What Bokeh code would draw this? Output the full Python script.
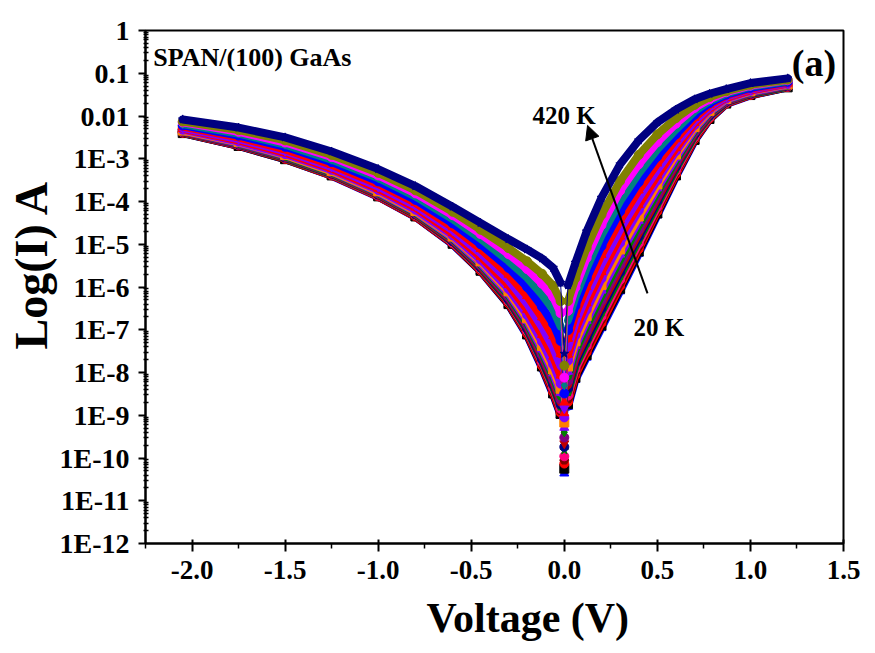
from bokeh.plotting import figure
from bokeh.models import Range1d, FixedTicker, Label, Arrow, NormalHead, NumeralTickFormatter, Title
from bokeh.embed import file_html
from bokeh.resources import INLINE

# Voltage grid (V); index 13 (0.0 V) holds each curve's minimum
voltage = [-2.05, -1.75, -1.5, -1.25, -1.0, -0.8, -0.6, -0.45, -0.3, -0.2, -0.12, -0.06, -0.02,
           0.0,
           0.02, 0.06, 0.12, 0.2, 0.3, 0.4, 0.5, 0.6, 0.7, 0.78, 0.87, 1.0, 1.2]

temperatures = [20, 40, 60, 80, 100, 120, 140, 160, 180, 200, 220,
                240, 260, 280, 300, 320, 340, 360, 380, 400, 420]

# log10(I / A)
logI_20K = [-2.40, -2.70, -3.01, -3.40, -3.89, -4.36, -5.00, -5.63, -6.41, -7.13, -7.89, -8.52, -9.00, -10.36, -8.80, -8.17, -7.65, -6.96, -6.10, -5.22, -4.32, -3.42, -2.58, -2.08, -1.72, -1.52, -1.33]
logI_40K = [-2.40, -2.70, -3.01, -3.39, -3.88, -4.35, -4.99, -5.62, -6.40, -7.11, -7.86, -8.49, -8.97, -10.25, -8.74, -8.12, -7.59, -6.90, -6.04, -5.17, -4.28, -3.39, -2.56, -2.07, -1.71, -1.51, -1.33]
logI_60K = [-2.39, -2.69, -3.00, -3.39, -3.88, -4.35, -4.98, -5.61, -6.38, -7.09, -7.84, -8.46, -8.94, -10.13, -8.69, -8.06, -7.53, -6.84, -5.98, -5.11, -4.23, -3.36, -2.54, -2.06, -1.71, -1.51, -1.32]
logI_80K = [-2.39, -2.69, -2.99, -3.38, -3.87, -4.34, -4.97, -5.59, -6.36, -7.06, -7.80, -8.42, -8.89, -10.05, -8.62, -7.99, -7.46, -6.76, -5.91, -5.05, -4.18, -3.32, -2.52, -2.04, -1.70, -1.50, -1.32]
logI_100K = [-2.38, -2.68, -2.98, -3.37, -3.86, -4.32, -4.96, -5.57, -6.33, -7.03, -7.76, -8.37, -8.85, -9.96, -8.54, -7.92, -7.38, -6.69, -5.83, -4.98, -4.13, -3.28, -2.49, -2.03, -1.69, -1.49, -1.31]
logI_120K = [-2.38, -2.67, -2.98, -3.36, -3.85, -4.31, -4.94, -5.56, -6.31, -7.00, -7.72, -8.33, -8.80, -9.82, -8.46, -7.84, -7.30, -6.59, -5.74, -4.90, -4.06, -3.23, -2.46, -2.01, -1.68, -1.49, -1.31]
logI_140K = [-2.37, -2.67, -2.97, -3.35, -3.84, -4.30, -4.93, -5.54, -6.29, -6.97, -7.69, -8.28, -8.75, -9.74, -8.37, -7.76, -7.21, -6.50, -5.65, -4.82, -3.99, -3.18, -2.43, -1.99, -1.67, -1.48, -1.30]
logI_160K = [-2.37, -2.66, -2.96, -3.34, -3.83, -4.29, -4.91, -5.52, -6.26, -6.93, -7.63, -8.22, -8.69, -9.66, -8.29, -7.68, -7.12, -6.41, -5.57, -4.74, -3.93, -3.14, -2.41, -1.97, -1.66, -1.47, -1.29]
logI_180K = [-2.36, -2.65, -2.95, -3.33, -3.81, -4.27, -4.89, -5.49, -6.23, -6.89, -7.58, -8.16, -8.63, -9.52, -8.20, -7.59, -7.03, -6.32, -5.48, -4.66, -3.86, -3.09, -2.38, -1.95, -1.65, -1.46, -1.29]
logI_200K = [-2.35, -2.64, -2.94, -3.32, -3.80, -4.26, -4.87, -5.47, -6.19, -6.84, -7.52, -8.09, -8.55, -9.40, -8.09, -7.49, -6.91, -6.20, -5.36, -4.56, -3.78, -3.03, -2.34, -1.93, -1.63, -1.45, -1.28]
logI_220K = [-2.35, -2.63, -2.92, -3.30, -3.78, -4.24, -4.85, -5.44, -6.15, -6.79, -7.46, -8.02, -8.47, -9.29, -7.98, -7.38, -6.79, -6.08, -5.24, -4.45, -3.69, -2.97, -2.30, -1.91, -1.62, -1.44, -1.27]
logI_240K = [-2.34, -2.61, -2.91, -3.29, -3.76, -4.22, -4.82, -5.40, -6.10, -6.73, -7.38, -7.93, -8.38, -9.17, -7.86, -7.27, -6.68, -5.95, -5.12, -4.35, -3.60, -2.90, -2.26, -1.88, -1.60, -1.42, -1.26]
logI_260K = [-2.32, -2.60, -2.89, -3.26, -3.73, -4.19, -4.79, -5.36, -6.04, -6.65, -7.28, -7.81, -8.26, -9.05, -7.72, -7.13, -6.53, -5.80, -4.97, -4.21, -3.50, -2.82, -2.21, -1.85, -1.59, -1.41, -1.25]
logI_280K = [-2.30, -2.57, -2.86, -3.23, -3.70, -4.14, -4.74, -5.29, -5.95, -6.53, -7.12, -7.63, -8.07, -8.95, -7.58, -6.99, -6.38, -5.65, -4.82, -4.08, -3.39, -2.75, -2.16, -1.82, -1.57, -1.40, -1.24]
logI_300K = [-2.28, -2.54, -2.82, -3.19, -3.65, -4.09, -4.67, -5.21, -5.84, -6.39, -6.94, -7.42, -7.85, -8.84, -7.41, -6.83, -6.20, -5.47, -4.65, -3.92, -3.26, -2.65, -2.11, -1.79, -1.55, -1.38, -1.23]
logI_320K = [-2.25, -2.50, -2.78, -3.14, -3.59, -4.03, -4.60, -5.11, -5.71, -6.21, -6.71, -7.15, -7.57, -8.70, -7.21, -6.64, -6.00, -5.25, -4.44, -3.74, -3.11, -2.54, -2.04, -1.74, -1.52, -1.36, -1.21]
logI_340K = [-2.22, -2.46, -2.72, -3.08, -3.53, -3.96, -4.51, -5.00, -5.55, -6.00, -6.46, -6.86, -7.26, -8.49, -7.01, -6.44, -5.79, -5.04, -4.23, -3.55, -2.95, -2.43, -1.97, -1.70, -1.50, -1.34, -1.20]
logI_360K = [-2.19, -2.41, -2.67, -3.02, -3.45, -3.88, -4.41, -4.87, -5.39, -5.78, -6.18, -6.53, -6.92, -8.30, -6.78, -6.23, -5.56, -4.79, -3.99, -3.34, -2.78, -2.31, -1.89, -1.65, -1.47, -1.31, -1.18]
logI_380K = [-2.15, -2.37, -2.62, -2.96, -3.39, -3.81, -4.32, -4.76, -5.23, -5.58, -5.92, -6.23, -6.61, -8.12, -6.56, -6.01, -5.32, -4.55, -3.75, -3.13, -2.61, -2.18, -1.81, -1.61, -1.44, -1.29, -1.16]
logI_400K = [-2.13, -2.33, -2.57, -2.91, -3.33, -3.74, -4.24, -4.66, -5.09, -5.40, -5.69, -5.97, -6.33, -7.84, -6.33, -5.79, -5.08, -4.31, -3.52, -2.91, -2.43, -2.05, -1.74, -1.56, -1.42, -1.27, -1.15]
logI_420K = [-2.08, -2.27, -2.50, -2.83, -3.24, -3.64, -4.12, -4.50, -4.88, -5.12, -5.33, -5.55, -5.90, -7.56, -5.96, -5.43, -4.70, -3.91, -3.13, -2.57, -2.15, -1.85, -1.61, -1.48, -1.37, -1.23, -1.12]

curves = [logI_20K, logI_40K, logI_60K, logI_80K, logI_100K, logI_120K, logI_140K,
          logI_160K, logI_180K, logI_200K, logI_220K, logI_240K, logI_260K, logI_280K,
          logI_300K, logI_320K, logI_340K, logI_360K, logI_380K, logI_400K, logI_420K]

colors = ["#0000FF", "#000000", "#FF0000", "#800000", "#FF0080", "#008000", "#000080",
          "#C00000", "#800080", "#008000", "#8000FF", "#FF8000", "#8000FF", "#FF0000",
          "#8000FF", "#FF0000", "#0000FF", "#008080", "#FF00FF", "#808000", "#000080"]
markers = ["triangle", "square", "circle", "hex", "circle", "star", "circle",
           "inverted_triangle", "circle", "diamond", "triangle", "square", "circle", "triangle",
           "inverted_triangle", "triangle", "circle", "diamond", "circle", "circle", "star"]

x_ticks = [-2.0, -1.5, -1.0, -0.5, 0.0, 0.5, 1.0, 1.5]
x_minor = [-2.25, -1.75, -1.25, -0.75, -0.25, 0.25, 0.75, 1.25]
y_ticks = [1e-12, 1e-11, 1e-10, 1e-9, 1e-8, 1e-7, 1e-6, 1e-5, 1e-4, 1e-3, 1e-2, 1e-1, 1.0]
y_tick_labels = ["1E-12", "1E-11", "1E-10", "1E-9", "1E-8", "1E-7", "1E-6", "1E-5",
                 "1E-4", "1E-3", "0.01", "0.1", "1"]

FONT = "Liberation Serif"

p = figure(width=875, height=653, x_range=Range1d(-2.25, 1.5), y_range=Range1d(1e-12, 1.0),
           y_axis_type="log", output_backend="svg", toolbar_location=None,
           min_border_left=145, min_border_right=32, min_border_top=30, min_border_bottom=110)
p.grid.visible = False
p.outline_line_color = "black"
p.outline_line_width = 2
p.background_fill_color = "white"
p.border_fill_color = "white"

for logI, c, m in zip(curves, colors, markers):
    cur = [10 ** v for v in logI]
    p.line(voltage[:13], cur[:13], line_width=8, color=c, line_join="round", line_cap="round")
    p.line(voltage[14:], cur[14:], line_width=8, color=c, line_join="round", line_cap="round")
    p.line(voltage[12:15], cur[12:15], line_width=1, color=c)
    p.scatter(voltage, cur, marker=m, size=9, fill_color=c, line_color=c)

# axes
p.xaxis.ticker = FixedTicker(ticks=x_ticks, minor_ticks=x_minor)
p.xaxis.formatter = NumeralTickFormatter(format="0.0")
y_minor = [k * d for d in y_ticks[:-1] for k in range(2, 10)]
p.yaxis.ticker = FixedTicker(ticks=y_ticks, minor_ticks=y_minor)
p.yaxis.major_label_overrides = dict(zip(y_ticks, y_tick_labels))

for ax in (p.xaxis[0], p.yaxis[0]):
    ax.axis_line_width = 2
    ax.axis_line_color = "black"
    ax.major_tick_line_width = 2
    ax.minor_tick_line_width = 1.5
    ax.major_label_text_font = FONT
    ax.major_label_text_font_style = "bold"
    ax.major_label_text_color = "black"

p.xaxis.major_label_text_font_size = "27px"
p.yaxis.major_label_text_font_size = "28px"

p.xaxis.major_tick_out = 8
p.xaxis.major_tick_in = 4
p.xaxis.minor_tick_out = 5
p.xaxis.minor_tick_in = 0
p.xaxis.major_label_standoff = 9

p.yaxis.major_tick_out = 7
p.yaxis.major_tick_in = 0
p.yaxis.minor_tick_out = 2
p.yaxis.minor_tick_in = 3
p.yaxis.major_label_standoff = 9

# axis titles (offset from frame edges to match reference placement)
p.add_layout(Title(text="Voltage (V)", align="left", offset=281, standoff=22,
                   text_font=FONT, text_font_style="bold", text_font_size="42px",
                   text_color="black"), "below")
p.add_layout(Title(text="Log(I) A", align="left", offset=194, standoff=0,
                   text_font=FONT, text_font_style="bold", text_font_size="46px",
                   text_color="black"), "left")

# annotations
p.add_layout(Label(x=-2.208, y=10 ** -0.63, text="SPAN/(100) GaAs", text_font=FONT,
                   text_font_style="bold", text_font_size="26px", text_baseline="alphabetic",
                   text_color="black"))
p.add_layout(Label(x=1.222, y=10 ** -0.75, text="(a)", text_font=FONT,
                   text_font_style="bold", text_font_size="38px", text_baseline="alphabetic",
                   text_color="black"))
p.add_layout(Label(x=-0.171, y=10 ** -1.99, text="420 K", text_font=FONT,
                   text_font_style="bold", text_font_size="25px", text_baseline="alphabetic",
                   text_color="black"))
p.add_layout(Label(x=0.372, y=10 ** -6.95, text="20 K", text_font=FONT,
                   text_font_style="bold", text_font_size="25px", text_baseline="alphabetic",
                   text_color="black"))
p.add_layout(Arrow(end=NormalHead(size=14, fill_color="black", line_color="black"),
                   x_start=0.447, y_start=10 ** -6.15, x_end=0.125, y_end=10 ** -2.22,
                   line_width=2, line_color="black"))

open("out.html", "w").write(file_html(p, INLINE))
